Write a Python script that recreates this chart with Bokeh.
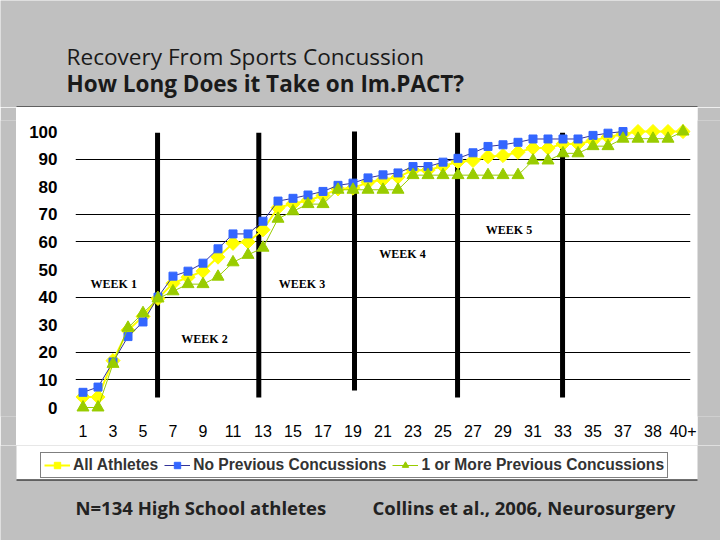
import numpy as np
from bokeh.plotting import figure
from bokeh.models import ColumnDataSource, FixedTicker, Legend, LegendItem, Label, Range1d
from bokeh.layouts import column, row
from bokeh.embed import file_html
from bokeh.resources import INLINE
from bokeh.core.properties import value

# ---------------- data ----------------
days = [str(d) for d in range(1, 38)] + ["37.5", "38", "39", "40+"]

all_athletes = [3.8, 3.8, 17.0, 28.0, 33.0, 39.5, 45.0, 47.2, 49.4, 54.5,
                59.5, 60.0, 64.4, 72.4, 73.8, 75.0, 76.8, 79.2, 79.5, 81.6,
                82.5, 83.5, 86.0, 86.0, 87.5, 89.0, 89.5, 90.9, 91.3, 92.5,
                94.0, 94.0, 95.5, 95.5, 96.7, 98.0, 99.0, 100.0, 100.0, 100.0, 100.0]

no_previous = [5.5, 7.4, 16.5, 25.7, 31.0, 40.0, 47.6, 49.4, 52.3, 57.5,
               62.9, 62.9, 67.5, 74.8, 75.8, 77.0, 78.3, 80.5, 81.3, 83.2,
               84.3, 85.0, 87.3, 87.3, 88.9, 90.3, 92.3, 94.6, 95.2, 96.1,
               97.3, 97.3, 97.3, 97.3, 98.6, 99.4, 100.0,
               float("nan"), float("nan"), float("nan"), float("nan")]

one_or_more = [0.0, 0.0, 15.8, 28.9, 34.2, 39.5, 42.1, 44.7, 44.7, 47.4,
               52.6, 55.3, 57.9, 68.4, 71.1, 73.7, 73.7, 78.9, 78.9, 78.9,
               78.9, 78.9, 84.2, 84.2, 84.2, 84.2, 84.2, 84.2, 84.2, 84.2,
               89.5, 89.5, 92.1, 92.1, 94.7, 94.7, 97.4, 97.4, 97.4, 97.4, 100.0]

series_names = ["All Athletes", "No Previous Concussions", "1 or More Previous Concussions"]
y_ticks = list(range(0, 101, 10))
grid_values = [10, 20, 40, 60, 70, 90]

week_labels = ["WEEK 1", "WEEK 2", "WEEK 3", "WEEK 4", "WEEK 5"]
week_label_x = [2.05, 8.1, 14.6, 21.3, 28.4]
week_label_y = [44.6, 24.9, 44.8, 55.7, 64.4]
week_line_x = [4.97, 11.72, 18.1, 24.97, 31.97]
week_line_top = [99.6, 99.6, 100.0, 99.6, 99.6]
week_line_bottom = [3.6, 3.6, 6.2, 3.6, 3.6]

title_1 = "Recovery From Sports Concussion"
title_2 = "How Long Does it Take on Im.PACT?"
foot_1 = "N=134 High School athletes"
foot_2 = "Collins et al., 2006, Neurosurgery"

GRAY = "#c0c0c0"
YELLOW, BLUE, NAVY, GREEN = "#FFFF00", "#3366FF", "#333399", "#99CC00"
idx = list(range(len(days)))


def panel_fig(w, h, color):
    f = figure(width=w, height=h, x_range=Range1d(0, w), y_range=Range1d(h, 0),
               toolbar_location=None, output_backend="svg", min_border=0,
               x_axis_location=None, y_axis_location=None, title_location=None,
               background_fill_color=color, border_fill_color=color,
               outline_line_color=None)
    f.xgrid.visible = False
    f.ygrid.visible = False
    return f


def draw_series(fig, src_a, src_b, src_c, **kw):
    r = []
    r.append(fig.line("x", "y", source=src_a, line_color=YELLOW, line_width=2, **kw))
    r.append(fig.scatter("x", "y", source=src_a, marker="square", angle=np.pi / 4, size=10,
                         fill_color=YELLOW, line_color=YELLOW, **kw))
    r.append(fig.line("x", "y", source=src_b, line_color=NAVY, line_width=1, **kw))
    r.append(fig.scatter("x", "y", source=src_b, marker="square", size=8,
                         fill_color=BLUE, line_color=BLUE, **kw))
    r.append(fig.line("x", "y", source=src_c, line_color=GREEN, line_width=1, **kw))
    r.append(fig.scatter("x", "y", source=src_c, marker="triangle", size=12,
                         fill_color=GREEN, line_color=GREEN, **kw))
    return r


# ---------------- title ----------------
top = panel_fig(720, 107, GRAY)
top.segment(x0=[16], y0=[106.5], x1=[697], y1=[106.5], line_color="black", line_width=1)
top.add_layout(Label(x=66, y=56, text=title_1, text_font="Open Sans", text_font_size="22.6px",
                     text_color="#1a1a1a", text_baseline="alphabetic"))
top.add_layout(Label(x=66, y=83, text=title_2, text_font="Open Sans", text_font_size="22.5px",
                     text_font_style="bold", text_color="#1a1a1a", text_baseline="alphabetic"))

# ---------------- chart ----------------
p = figure(width=681, height=338, x_range=Range1d(-0.5, 40.5), y_range=Range1d(-3.26, 104.0),
           toolbar_location=None, output_backend="svg", title_location=None,
           min_border_left=59, min_border_right=7, min_border_top=13, min_border_bottom=29,
           background_fill_color="white", border_fill_color="white", outline_line_color=None)

p.xgrid.visible = False
p.ygrid.ticker = FixedTicker(ticks=grid_values)
p.ygrid.grid_line_color = "black"
p.ygrid.grid_line_alpha = 1.0
p.ygrid.grid_line_width = 1

p.yaxis.ticker = FixedTicker(ticks=y_ticks)
p.yaxis.axis_line_color = None
p.yaxis.major_tick_line_color = None
p.yaxis.minor_tick_line_color = None
p.yaxis.major_tick_out = 0
p.yaxis.major_tick_in = 0
p.yaxis.major_label_standoff = 18
p.yaxis.major_label_text_font = "Liberation Sans"
p.yaxis.major_label_text_font_style = "bold"
p.yaxis.major_label_text_font_size = "17px"
p.yaxis.major_label_text_color = "black"

p.xaxis.ticker = FixedTicker(ticks=idx[::2])
p.xaxis.major_label_overrides = {i: days[i] for i in idx[::2]}
p.xaxis.axis_line_color = None
p.xaxis.major_tick_line_color = None
p.xaxis.minor_tick_line_color = None
p.xaxis.major_tick_out = 0
p.xaxis.major_tick_in = 0
p.xaxis.major_label_standoff = 8
p.xaxis.major_label_text_font = "Liberation Sans"
p.xaxis.major_label_text_font_size = "16px"
p.xaxis.major_label_text_color = "black"

# week separators
p.segment(x0=week_line_x, y0=week_line_bottom, x1=week_line_x, y1=week_line_top,
          line_color="black", line_width=5)
p.text(x=week_label_x, y=week_label_y, text=week_labels, text_font=value("Liberation Serif"),
       text_font_style="bold", text_font_size="12px", text_align="center",
       text_baseline="middle", text_color="black")

src_all = ColumnDataSource(dict(x=idx, y=all_athletes))
src_no = ColumnDataSource(dict(x=idx, y=no_previous))
src_one = ColumnDataSource(dict(x=idx, y=one_or_more))

draw_series(p, src_all, src_no, src_one)

left = panel_fig(16, 338, GRAY)
right = panel_fig(23, 338, GRAY)

# ---------------- legend strip + footer ----------------
bottom = panel_fig(720, 95, GRAY)
bottom.quad(left=[16], right=[697], top=[0], bottom=[34], fill_color="white", line_color=None)
bottom.segment(x0=[16], y0=[34.5], x1=[697], y1=[34.5], line_color="black", line_width=1)
# series styles for the legend keys (their data lie outside this panel's view)
bottom.extra_x_ranges = {"keys": Range1d(-1000, -999)}
bottom.extra_y_ranges = {"keys": Range1d(-1000, -999)}
lr = draw_series(bottom, src_all, src_no, src_one, x_range_name="keys", y_range_name="keys")
legend = Legend(items=[LegendItem(label=series_names[0], renderers=[lr[0], lr[1]]),
                       LegendItem(label=series_names[1], renderers=[lr[2], lr[3]]),
                       LegendItem(label=series_names[2], renderers=[lr[4], lr[5]])],
                orientation="horizontal", location=(40, 62),
                border_line_color="black", border_line_width=1,
                background_fill_color="white", background_fill_alpha=1.0,
                padding=3, spacing=6, margin=0,
                glyph_width=26, glyph_height=16, label_height=16, label_standoff=3,
                label_text_font="Liberation Sans", label_text_font_style="bold",
                label_text_font_size="15.6px", label_text_color="#333333")
bottom.add_layout(legend)
bottom.add_layout(Label(x=75, y=62, text=foot_1, text_font="Open Sans", text_font_size="18.5px",
                        text_font_style="bold", text_color="#222222", text_baseline="alphabetic"))
bottom.add_layout(Label(x=372, y=62, text=foot_2, text_font="Open Sans", text_font_size="18.5px",
                        text_font_style="bold", text_color="#222222", text_baseline="alphabetic"))

layout = column(top, row(left, p, right), bottom)
open("out.html", "w").write(file_html(layout, INLINE))
